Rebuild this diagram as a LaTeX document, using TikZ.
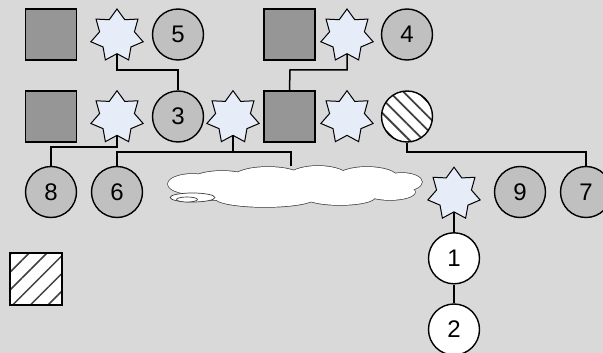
\documentclass[tikz,border=0pt]{standalone}
\usepackage{fontspec}
\setmainfont{Liberation Sans}
\usetikzlibrary{shapes.geometric,patterns.meta}
\definecolor{bg}{RGB}{217,217,217}
\definecolor{circfill}{RGB}{192,192,192}
\definecolor{sqfill}{RGB}{150,150,150}
\definecolor{starfill}{RGB}{230,237,248}
\definecolor{cloudline}{RGB}{60,60,60}
\begin{document}
\begin{tikzpicture}[x=1pt,y=-1pt,
  sq/.style={draw=black,line width=1.4pt,fill=sqfill,minimum size=51pt,inner sep=0pt},
  pers/.style={circle,draw=black,line width=1.4pt,fill=circfill,minimum size=51pt,inner sep=0pt,font=\fontsize{24}{24}\selectfont},
  whitepers/.style={pers,fill=white},
  starnode/.style={star,star points=7,star point ratio=1.5,draw=black,line width=1pt,fill=starfill,minimum size=53.6pt,inner sep=0pt},
  hatchsq/.style={draw=black,line width=1.4pt,minimum size=52pt,inner sep=0pt,preaction={fill=white},pattern={Lines[angle=45,distance=12.5pt,line width=1.5pt]},pattern color=black!75},
  hatchcirc/.style={circle,draw=black,line width=1.4pt,minimum size=51pt,inner sep=0pt,preaction={fill=white},pattern={Lines[angle=-45,distance=10pt,line width=1.8pt]},pattern color=black!75},
  link/.style={draw=black,line width=1.5pt},
  cloudpart/.style={draw=cloudline,line width=0.7pt,fill=white},
]
\useasboundingbox (0,0) rectangle (603,353);
\clip (0,0) rectangle (603,353);
\fill[bg] (0,0) rectangle (603,353);

% row 1
\node[sq] (q1) at (51,34.5) {};
\node[starnode] (s1) at (117,35.8) {};
\node[pers] (c5) at (178,34.5) {5};
\node[sq] (q2) at (289.5,34.5) {};
\node[starnode] (s4) at (347,35.8) {};
\node[pers] (c4) at (407,34.5) {4};

% row 2
\node[sq] (q3) at (51,116.5) {};
\node[starnode] (s2) at (117,117.5) {};
\node[pers] (c3) at (178,116.5) {3};
\node[starnode] (s3) at (233,117.5) {};
\node[sq] (q4) at (289.5,116.5) {};
\node[starnode] (s5) at (347,117.5) {};
\node[hatchcirc] (h1) at (407,116.5) {};

% row 3
\node[pers] (c8) at (51,192) {8};
\node[pers] (c6) at (117,192) {6};
\node[ellipse,minimum width=254pt,minimum height=41pt,inner sep=0pt] (cl) at (295,186.5) {};
\node[starnode] (s6) at (454,194) {};
\node[pers] (c9) at (520,192) {9};
\node[pers] (c7) at (586,192) {7};
\node[whitepers] (c1) at (454,258.3) {1};
\node[whitepers] (c2) at (454,329.5) {2};

\node[hatchsq] (hq) at (36,279) {};

% junction coordinates
\coordinate (j1) at (178,70);
\coordinate (j2) at (290,70);
\coordinate (j3) at (51,147);
\coordinate (j4) at (117,152);
\coordinate (j5) at (291,152);
\coordinate (j6) at (586,152);

% connectors
\draw[link] (s1.south) |- (j1) -- (c3.north);
\draw[link] (s4.south) |- (j2) -- (q4.north);
\draw[link] (s2.south) |- (j3) -- (c8.north);
\draw[link] (s3.south) -- (s3.south |- j4);
\draw[link] (c6.north) -- (j4) -- (j5) -- (j5 |- cl.north);
\draw[link] (h1.south) |- (j6) -- (c7.north);
\draw[link] (s6.south) -- (c1.north);
\draw[link] (c1.south) -- (c2.north);

% cloud (union of puffs: outline pass, then fill pass)
\def\puffs{192/184/24/10, 222/180/30/9, 268/177/34/10, 318/177/30/11, 367/177/30/10, 402/182/20/9, 390/192/25/8, 340/197/35/8, 265/198/50/9, 215/193/25/7, 295/187/100/14}
\foreach \cx/\cy/\rx/\ry in \puffs
  \draw[cloudline,line width=1.4pt] (\cx,\cy) ellipse [x radius=\rx, y radius=\ry];
\foreach \cx/\cy/\rx/\ry in \puffs
  \fill[white] (\cx,\cy) ellipse [x radius=\rx, y radius=\ry];
\path[cloudpart] (192.5,197.5) ellipse [x radius=22.5, y radius=4.5];
\path[cloudpart] (187,199.5) ellipse [x radius=10.5, y radius=2.5];
\end{tikzpicture}
\end{document}
